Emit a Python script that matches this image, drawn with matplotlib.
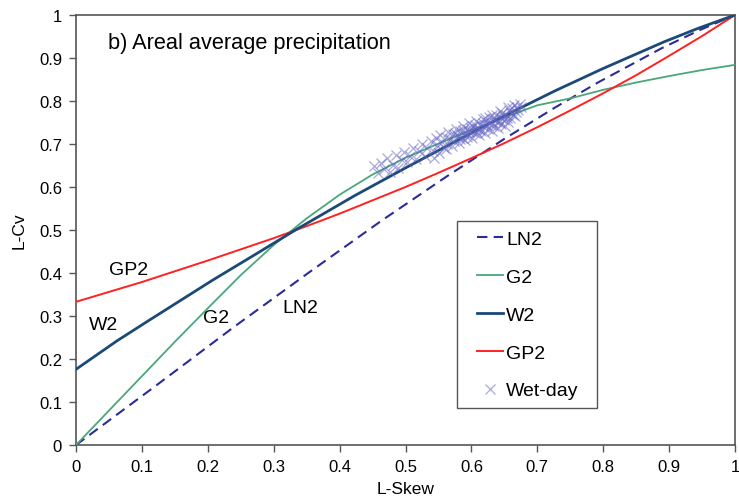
import matplotlib
matplotlib.use("Agg")
import matplotlib.pyplot as plt
from matplotlib.patches import Rectangle
import numpy as np

plt.rcParams['font.family'] = ['Liberation Sans', 'DejaVu Sans']

# ---- data ----
ln2_x = [0, 0.123, 0.241, 0.356, 0.463, 0.561, 0.649, 0.726, 0.792, 0.889, 0.948, 1.0]
ln2_y = [0, 0.140, 0.276, 0.404, 0.521, 0.623, 0.711, 0.784, 0.843, 0.923, 0.966, 1.0]

g2_x = [0, 0.05, 0.1, 0.15, 0.2, 0.25, 0.3, 0.35, 0.4, 0.45, 0.5, 0.55, 0.6, 0.65,
        0.7, 0.75, 0.8, 0.85, 0.9, 0.95, 1.0]
g2_y = [0, 0.080, 0.160, 0.240, 0.318, 0.395, 0.465, 0.527, 0.582, 0.629, 0.668, 0.701,
        0.732, 0.762, 0.790, 0.806, 0.826, 0.843, 0.858, 0.872, 0.884]

w2_x = [0, 0.062, 0.114, 0.208, 0.274, 0.333, 0.423, 0.502, 0.630, 0.726, 0.799, 0.893, 0.944, 1.0]
w2_y = [0.176, 0.242, 0.293, 0.384, 0.445, 0.500, 0.580, 0.646, 0.750, 0.823, 0.875, 0.938, 0.969, 1.0]

gp2_x = [0, 0.05, 0.1, 0.15, 0.2, 0.25, 0.3, 0.35, 0.4, 0.45, 0.5,
         0.55, 0.6, 0.65, 0.7, 0.75, 0.8, 0.85, 0.9, 0.95, 1.0]
gp2_y = [0.333, 0.356, 0.379, 0.404, 0.429, 0.455, 0.481, 0.509, 0.538, 0.569, 0.600,
         0.633, 0.667, 0.702, 0.739, 0.778, 0.818, 0.860, 0.905, 0.951, 1.0]

wet_x = [0.452, 0.458, 0.463, 0.468, 0.472, 0.476, 0.481, 0.485, 0.489, 0.494, 0.498, 0.503,
         0.507, 0.512, 0.516, 0.521, 0.525, 0.529, 0.533, 0.538,
         0.541, 0.543, 0.546, 0.548, 0.551, 0.553, 0.556, 0.558, 0.561, 0.563, 0.565, 0.568,
         0.570, 0.572, 0.574, 0.577, 0.579, 0.581, 0.583, 0.585, 0.587, 0.589, 0.591, 0.593,
         0.595, 0.597, 0.599, 0.601, 0.603, 0.605, 0.607, 0.609, 0.611, 0.613, 0.615, 0.617,
         0.619, 0.621, 0.623, 0.625, 0.627, 0.629, 0.631, 0.633, 0.635,
         0.637, 0.639, 0.641, 0.643, 0.645, 0.647, 0.649, 0.651, 0.653, 0.655, 0.657, 0.659,
         0.661, 0.663, 0.665, 0.667, 0.669, 0.671, 0.673, 0.676,
         0.562, 0.575, 0.582, 0.588, 0.594, 0.600, 0.606, 0.612, 0.618, 0.624, 0.630, 0.636,
         0.642, 0.648, 0.654, 0.660, 0.596, 0.608, 0.620, 0.632, 0.644, 0.656, 0.666]
wet_y = [0.648, 0.632, 0.655, 0.641, 0.668, 0.636, 0.652, 0.674, 0.645, 0.662, 0.681, 0.657,
         0.672, 0.690, 0.664, 0.683, 0.699, 0.672, 0.690, 0.706,
         0.684, 0.668, 0.713, 0.697, 0.679, 0.722, 0.705, 0.690, 0.716, 0.700, 0.729, 0.711,
         0.695, 0.724, 0.708, 0.736, 0.718, 0.702, 0.731, 0.714, 0.742, 0.725, 0.709, 0.736,
         0.720, 0.748, 0.731, 0.714, 0.741, 0.726, 0.753, 0.736, 0.720, 0.746, 0.731, 0.757,
         0.740, 0.726, 0.752, 0.736, 0.763, 0.745, 0.731, 0.757, 0.741,
         0.768, 0.751, 0.737, 0.762, 0.746, 0.773, 0.756, 0.742, 0.767, 0.752, 0.778, 0.761,
         0.784, 0.768, 0.790, 0.774, 0.786, 0.779, 0.792, 0.785,
         0.688, 0.725, 0.712, 0.733, 0.716, 0.738, 0.744, 0.735, 0.749, 0.744, 0.752, 0.757,
         0.752, 0.765, 0.760, 0.771, 0.727, 0.728, 0.761, 0.768, 0.776, 0.787, 0.765]

tick_vals = [0, 0.1, 0.2, 0.3, 0.4, 0.5, 0.6, 0.7, 0.8, 0.9, 1.0]
tick_labels = ['0', '0.1', '0.2', '0.3', '0.4', '0.5', '0.6', '0.7', '0.8', '0.9', '1']

curve_labels = [('GP2', 0.080, 0.409), ('W2', 0.042, 0.281), ('G2', 0.212, 0.297), ('LN2', 0.341, 0.320)]

# ---- figure ----
fig = plt.figure(figsize=(7.39, 5.02), dpi=100)
ax = fig.add_axes([76 / 739, 56 / 502, 659 / 739, 430 / 502])

ax.plot(ln2_x, ln2_y, color='#2b2b9a', lw=1.5, dashes=(5, 3), label='LN2', zorder=3)
ax.plot(g2_x, g2_y, color='#4aa77a', lw=1.3, label='G2', zorder=3)
ax.plot(w2_x, w2_y, color='#1b4a78', lw=2.0, label='W2', zorder=4)
ax.plot(gp2_x, gp2_y, color='#ff2020', lw=1.4, label='GP2', zorder=3)
ax.plot(wet_x, wet_y, linestyle='none', marker='x', markersize=7, markeredgewidth=0.9,
        color='#6464c4', alpha=0.55, label='Wet-day', zorder=5)

ax.set_xlim(0, 1)
ax.set_ylim(0, 1)
ax.set_xticks(tick_vals)
ax.set_xticklabels(tick_labels)
ax.set_yticks(tick_vals)
ax.set_yticklabels(tick_labels)
ax.tick_params(direction='out', length=5, width=1, color='#555555', labelsize=12, pad=5)
for sp in ax.spines.values():
    sp.set_color('#555555')
    sp.set_linewidth(1.2)

ax.set_xlabel('L-Skew', fontsize=12.5, labelpad=5)
ax.set_ylabel('L-Cv', fontsize=12.5, labelpad=9)

ax.text(0.048, 0.937, 'b) Areal average precipitation', transform=ax.transAxes,
        fontsize=15.7, va='center', ha='left')

for name, lx, ly in curve_labels:
    ax.text(lx, ly, name, fontsize=14, ha='center', va='center')

# legend frame and entries
ax.add_patch(Rectangle((0.578, 0.086), 0.2124, 0.435, transform=ax.transAxes,
                       facecolor='white', edgecolor='#555555', lw=1.0, zorder=6))
leg = ax.legend(loc='upper left', bbox_to_anchor=(0.6085, 0.499), borderaxespad=0,
                frameon=False, fontsize=14, borderpad=0,
                labelspacing=1.04, handlelength=1.34, handletextpad=0.15)
leg.set_zorder(7)

fig.savefig('out.png', dpi=100, facecolor='white')
